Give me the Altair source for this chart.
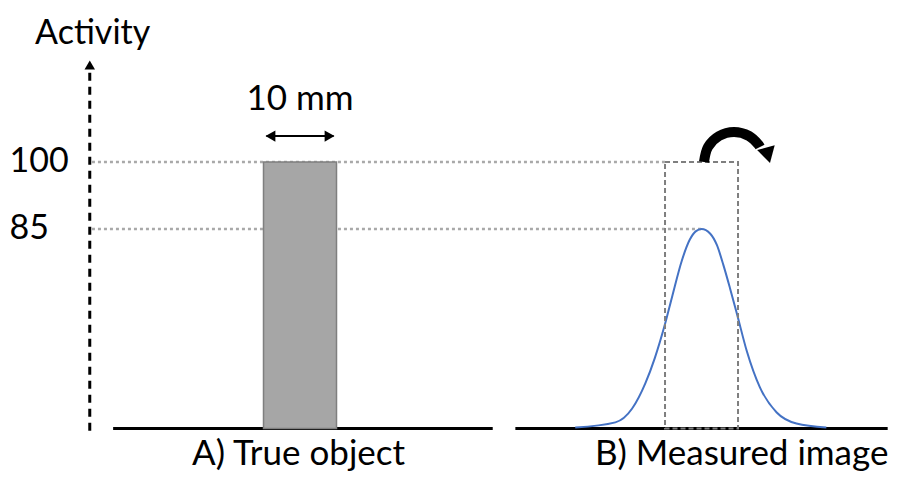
import altair as alt
import pandas as pd

# ---------------- data (x in mm, y in activity units) ----------------
tick_values = [100, 85]
tick_labels = ["100", "85"]
object_x = [0, 10]            # true object, 10 mm wide
object_activity = 100
window_x = [55, 65]           # 10 mm window over the measured image
peak_activity = 85
curve_mm = [42.7, 48.2, 50.5, 52.3, 53.6, 55.0, 56.0, 57.3, 58.4, 59.2, 60.0,
            61.2, 62.1, 63.0, 63.9, 64.9, 66.2, 68.0, 70.3, 73.0, 77.1]
curve_activity = [0.4, 2.6, 8.5, 19.2, 30.0, 44.5, 56.5, 71.5, 80.5, 84.0, 85.0,
                  83.0, 78.2, 69.6, 59.8, 48.3, 33.0, 17.5, 6.8, 2.1, 0.4]
panel_titles = ["A) True object", "B) Measured image"]
panel_centers = [4.8, 65.5]
panel_spans = [[-20.6, 31.4], [34.5, 85.5]]
axis_x = -23.8
axis_top = 120.5
size_label = "10 mm"
axis_title = "Activity"
turn_mm = [60.34, 60.89, 62.40, 64.45, 66.51, 67.82, 68.01]
turn_act = [100.0, 103.36, 105.82, 106.72, 105.82, 103.85, 103.36]

FONT = "Lato"
X = alt.Scale(domain=[-35, 86.23], nice=False, zero=False)
Y = alt.Scale(domain=[0, 85, 100, 130], range=[420.5, 221, 154, 20],
              nice=False, zero=False)


def xq(f):
    return alt.X(f, type="quantitative", scale=X, axis=None)


def yq(f):
    return alt.Y(f, type="quantitative", scale=Y, axis=None)


def x2(f):
    return alt.X2(f)


# dotted reference lines
refs = pd.DataFrame({
    "x": [axis_x + 0.3, axis_x + 0.3],
    "x2": [window_x[0], window_x[0] + (window_x[1] - window_x[0]) / 2],
    "y": [object_activity, peak_activity],
})
ref_layer = alt.Chart(refs).mark_rule(color="#a9a9a9", strokeWidth=2.5, strokeDash=[3, 3]).encode(
    x=xq("x"), x2=x2("x2"), y=yq("y"))

bases = pd.DataFrame({"x": [s[0] for s in panel_spans], "x2": [s[1] for s in panel_spans], "y": [0, 0]})
base_layer = alt.Chart(bases).mark_rule(color="black", strokeWidth=3).encode(
    x=xq("x"), x2=x2("x2"), y=yq("y"))

obj = pd.DataFrame({"x": [object_x[0]], "x2": [object_x[1]], "y": [0], "y2": [object_activity]})
obj_layer = alt.Chart(obj).mark_rect(fill="#a6a6a6", stroke="#7f7f7f", strokeWidth=1.5).encode(
    x=xq("x"), x2=x2("x2"), y=yq("y"), y2=alt.Y2("y2"))

win = pd.DataFrame({"x": [window_x[0]], "x2": [window_x[1]], "y": [0], "y2": [object_activity]})
win_layer = alt.Chart(win).mark_rect(fillOpacity=0, stroke="#7f7f7f", strokeWidth=2,
                                     strokeDash=[5, 3]).encode(
    x=xq("x"), x2=x2("x2"), y=yq("y"), y2=alt.Y2("y2"))

curve = pd.DataFrame({"x": curve_mm, "y": curve_activity})
curve_layer = alt.Chart(curve).mark_line(color="#4472c4", strokeWidth=2, interpolate="monotone").encode(
    x=xq("x"), y=yq("y"))

ax = pd.DataFrame({"x": [axis_x], "y": [-1], "y2": [axis_top]})
ax_layer = alt.Chart(ax).mark_rule(color="black", strokeWidth=3, strokeDash=[8, 6]).encode(
    x=xq("x"), y=yq("y"), y2=alt.Y2("y2"))
ax_head = alt.Chart(pd.DataFrame({"x": [axis_x], "y": [axis_top + 1.2]})).mark_point(
    shape="triangle-up", filled=True, color="black", size=110, opacity=1).encode(x=xq("x"), y=yq("y"))

# double-headed 10 mm arrow
dbl = pd.DataFrame({"x": [object_x[0] + 0.4], "x2": [object_x[1] - 0.4], "y": [105.8]})
dbl_layer = alt.Chart(dbl).mark_rule(color="black", strokeWidth=2).encode(
    x=xq("x"), x2=x2("x2"), y=yq("y"))
heads = pd.DataFrame({"x": [object_x[0] + 0.95, object_x[1] - 0.95], "y": [105.8, 105.8],
                      "s": ["triangle-left", "triangle-right"]})
heads_layer = alt.Chart(heads).mark_point(filled=True, color="black", size=130, opacity=1).encode(
    x=xq("x"), y=yq("y"),
    shape=alt.Shape("s:N", scale=alt.Scale(domain=["triangle-left", "triangle-right"],
                                           range=["triangle-left", "triangle-right"]), legend=None))

# curved arrow
turn = pd.DataFrame({"x": turn_mm, "y": turn_act})
turn_layer = alt.Chart(turn).mark_line(color="black", strokeWidth=10, strokeCap="butt",
                                       interpolate="catmull-rom").encode(x=xq("x"), y=yq("y"))
turn_head = alt.Chart(pd.DataFrame({"x": [69.1], "y": [101.5]})).mark_point(
    shape="triangle-down", filled=True, color="black", size=330, opacity=1, angle=345).encode(
    x=xq("x"), y=yq("y"))

# texts
ticks_df = pd.DataFrame({"x": [-34.8, -34.8], "y": tick_values, "t": tick_labels})
ticks_layer = alt.Chart(ticks_df).mark_text(font=FONT, fontSize=34, align="left", baseline="middle",
                                            color="black").encode(x=xq("x"), y=yq("y"), text="t:N")

title_df = pd.DataFrame({"x": [axis_x + 0.4], "y": [126.5], "t": [axis_title]})
title_layer = alt.Chart(title_df).mark_text(font=FONT, fontSize=34, align="center", baseline="alphabetic",
                                            color="black").encode(x=xq("x"), y=yq("y"), text="t:N")

size_df = pd.DataFrame({"x": [5], "y": [111.6], "t": [size_label]})
size_layer = alt.Chart(size_df).mark_text(font=FONT, fontSize=35, align="center", baseline="alphabetic",
                                          color="black").encode(x=xq("x"), y=yq("y"), text="t:N")

pt_df = pd.DataFrame({"x": panel_centers, "y": [-15.6, -15.6], "t": panel_titles})
pt_layer = alt.Chart(pt_df).mark_text(font=FONT, fontSize=35, align="center", baseline="alphabetic",
                                      color="black").encode(x=xq("x"), y=yq("y"), text="t:N")

chart = alt.layer(
    ref_layer, base_layer, obj_layer, curve_layer, win_layer, ax_layer, ax_head,
    dbl_layer, heads_layer, turn_layer, turn_head,
    ticks_layer, title_layer, size_layer, pt_layer,
).properties(width=885, height=465, padding=0, autosize="none", background="white"
).configure_view(stroke=None)

chart.save("out.html", embed_options={"renderer": "svg", "actions": False})
